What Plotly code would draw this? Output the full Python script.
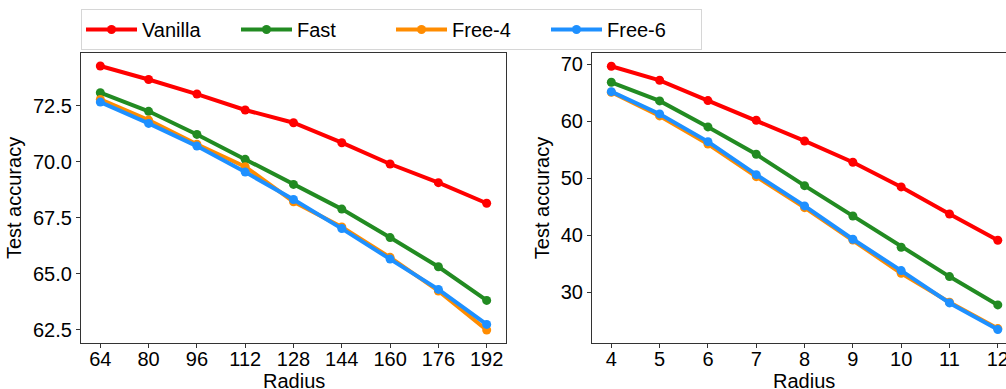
import plotly.graph_objects as go

radius_left = [64, 80, 96, 112, 128, 144, 160, 176, 192]
radius_right = [4, 5, 6, 7, 8, 9, 10, 11, 12]

vanilla_left = [74.27, 73.67, 73.02, 72.31, 71.74, 70.85, 69.90, 69.07, 68.15]
fast_left = [73.08, 72.25, 71.22, 70.11, 68.99, 67.89, 66.62, 65.32, 63.82]
free4_left = [72.78, 71.86, 70.78, 69.78, 68.22, 67.09, 65.74, 64.24, 62.50]
free6_left = [72.66, 71.71, 70.70, 69.54, 68.32, 67.02, 65.66, 64.31, 62.75]

vanilla_right = [69.65, 67.19, 63.63, 60.18, 56.55, 52.81, 48.48, 43.74, 39.12]
fast_right = [66.84, 63.57, 59.01, 54.21, 48.71, 43.39, 37.89, 32.75, 27.78]
free4_right = [65.09, 60.94, 56.02, 50.29, 44.85, 39.18, 33.33, 28.25, 23.63]
free6_right = [65.20, 61.29, 56.43, 50.64, 45.15, 39.30, 33.80, 28.13, 23.45]

names = ["Vanilla", "Fast", "Free-4", "Free-6"]
colors = ["#ff0000", "#228b22", "#ff8c00", "#1e90ff"]

left_series = [vanilla_left, fast_left, free4_left, free6_left]
right_series = [vanilla_right, fast_right, free4_right, free6_right]

W, H = 1006, 389
FONT = "Liberation Sans, Arial, sans-serif"
FS = 20

fig = go.Figure()
for name, col, ys in zip(names, colors, left_series):
    fig.add_trace(go.Scatter(x=radius_left, y=ys, name=name, mode="lines+markers",
                             line=dict(color=col, width=4), marker=dict(color=col, size=9),
                             xaxis="x", yaxis="y", legendgroup=name))
for name, col, ys in zip(names, colors, right_series):
    fig.add_trace(go.Scatter(x=radius_right, y=ys, name=name, mode="lines+markers",
                             line=dict(color=col, width=4), marker=dict(color=col, size=9),
                             xaxis="x2", yaxis="y2", legendgroup=name, showlegend=False))

def px_x(p):
    return p / W

def px_y(p):
    return 1 - p / H

axis_common = dict(showline=True, linecolor="#333333", linewidth=1.2, ticks="outside",
                   ticklen=4, tickwidth=1.2, tickcolor="#333333", showgrid=False,
                   zeroline=False, tickfont=dict(size=FS, color="black", family=FONT),
                   automargin=False, ticklabeloverflow="allow")

fig.update_layout(
    width=W, height=H,
    margin=dict(l=0, r=0, t=0, b=0),
    paper_bgcolor="white", plot_bgcolor="white",
    font=dict(family=FONT, size=FS, color="black"),
    xaxis=dict(domain=[px_x(81), px_x(506)], range=[57.6, 198.4], anchor="y",
               tickvals=radius_left, mirror=True, ticklabelstandoff=-6, **axis_common),
    yaxis=dict(domain=[px_y(343), px_y(53)], range=[61.92, 74.85], anchor="x",
               tickvals=[62.5, 65.0, 67.5, 70.0, 72.5], ticktext=["62.5", "65.0", "67.5", "70.0", "72.5"],
               mirror=True,
               title=dict(text="Test accuracy", font=dict(size=FS), standoff=5), **axis_common),
    xaxis2=dict(domain=[px_x(592), 1.0], range=[3.6, 12.17], anchor="y2",
                tickvals=radius_right, mirror=True, ticklabelstandoff=-6, **axis_common),
    yaxis2=dict(domain=[px_y(343), px_y(53)], range=[21.1, 71.98], anchor="x2",
                tickvals=[30, 40, 50, 60, 70], mirror=False,
                title=dict(text="Test accuracy", font=dict(size=FS), standoff=5), **axis_common),
    legend=dict(orientation="h", x=px_x(81), y=px_y(9), xanchor="left", yanchor="top",
                bordercolor="#d6d6d6", borderwidth=1, bgcolor="white",
                font=dict(size=FS, family=FONT, color="black"),
                itemwidth=51, entrywidth=89, entrywidthmode="pixels", tracegroupgap=0),
    showlegend=True,
    annotations=[
        dict(text="Radius", xref="paper", yref="paper", x=px_x(293.5), y=px_y(368),
             xanchor="center", yanchor="top", showarrow=False, font=dict(size=FS)),
        dict(text="Radius", xref="paper", yref="paper", x=px_x(804), y=px_y(368),
             xanchor="center", yanchor="top", showarrow=False, font=dict(size=FS)),
    ],
)

fig.write_html("out.html")
